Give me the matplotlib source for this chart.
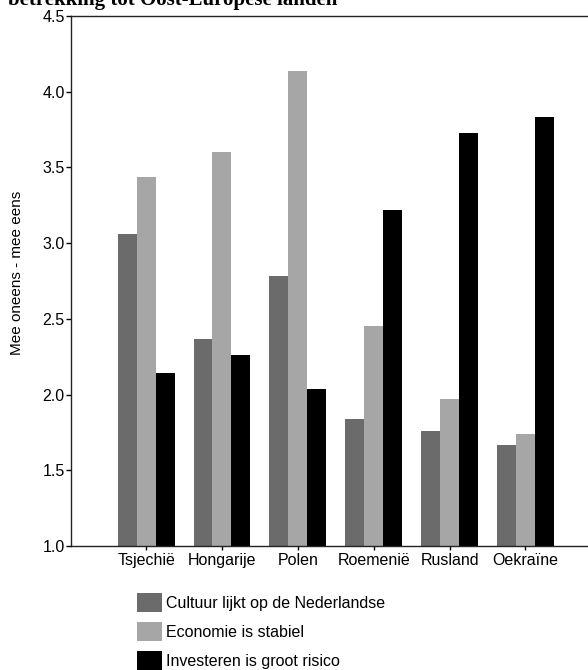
import matplotlib
matplotlib.use("Agg")
import matplotlib.pyplot as plt
import numpy as np

plt.rcParams["font.family"] = ["Liberation Sans", "DejaVu Sans"]

# data
landen = ["Tsjechië", "Hongarije", "Polen", "Roemenië", "Rusland", "Oekraïne"]
cultuur = [3.06, 2.37, 2.78, 1.84, 1.76, 1.67]
economie = [3.44, 3.60, 4.14, 2.45, 1.97, 1.74]
risico = [2.14, 2.26, 2.04, 3.22, 3.73, 3.83]
series_labels = ["Cultuur lijkt op de Nederlandse", "Economie is stabiel",
                 "Investeren is groot risico"]
yticks = [1.0, 1.5, 2.0, 2.5, 3.0, 3.5, 4.0, 4.5]

colors = ["#6b6b6b", "#a6a6a6", "#000000"]
W, H = 588, 670
fs = 11.5

fig = plt.figure(figsize=(W / 100, H / 100), dpi=100)
ax = fig.add_axes([71 / W, 1 - 546 / H, 1 - 71 / W + 0.002, (546 - 16) / H])

x = np.arange(len(landen))
bw = 0.25
for i, (vals, c, lab) in enumerate(zip([cultuur, economie, risico], colors, series_labels)):
    ax.bar(x + (i - 1) * bw, np.array(vals) - 1.0, bw, bottom=1.0, color=c,
           label=lab, linewidth=0)

ax.set_ylim(1.0, 4.5)
ax.set_xlim(-0.99, 5.84)
ax.set_yticks(yticks)
ax.set_yticklabels([f"{t:.1f}" for t in yticks], fontsize=fs)
ax.set_xticks(x)
ax.set_xticklabels(landen, fontsize=fs)
ax.tick_params(axis="y", length=3.5, width=1, pad=1)
ax.tick_params(axis="x", length=3, width=1, pad=2)
ax.spines["right"].set_visible(False)
for s in ["left", "bottom", "top"]:
    ax.spines[s].set_linewidth(1)
    ax.spines[s].set_color("#222222")

fig.text(17 / W, 1 - 273 / H, "Mee oneens - mee eens", rotation=90,
         ha="center", va="center", fontsize=11)

fig.text(8 / W, 1 - 5 / H, "betrekking tot Oost-Europese landen",
         family=["Liberation Serif", "DejaVu Serif"], fontweight="bold",
         fontsize=15, ha="left", va="baseline")

px = fs * 100 / 72
hh = (19 / px - 0.245) / 0.65
handles, labels = ax.get_legend_handles_labels()
fig.legend(handles, labels, loc="upper left", bbox_to_anchor=(137 / W, 1 - 593 / H),
           frameon=False, fontsize=fs, handlelength=25 / px, handleheight=hh,
           labelspacing=(29 - 19) / px, handletextpad=4 / px, borderpad=0,
           borderaxespad=0)

fig.savefig("out.png", dpi=100)
